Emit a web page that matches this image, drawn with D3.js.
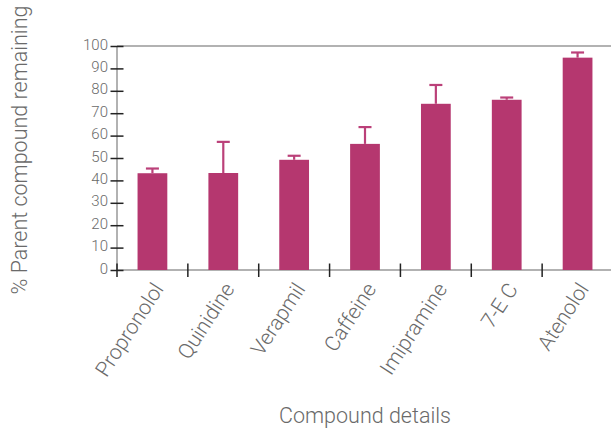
<!DOCTYPE html>
<html>
<head>
<meta charset="utf-8">
<script src="https://cdn.jsdelivr.net/npm/d3@7/dist/d3.min.js"></script>
<style>
  html, body { margin: 0; padding: 0; background: #fff; }
  svg { display: block; }
  text { font-family: Roboto, "Open Sans", Lato, sans-serif; font-weight: 300; }
</style>
</head>
<body>
<svg id="chart" width="611" height="428"></svg>
<script>
// Compounds and the share of each parent compound still present
const compounds = ["Propronolol", "Quinidine", "Verapmil", "Caffeine", "Imipramine", "7-E C", "Atenolol"];
const remaining = [43.2, 43.3, 49.2, 56.3, 74.2, 76.0, 94.8];
const errorTop = [45.3, 57.2, 51.0, 63.8, 82.6, 77.0, 97.1];
const yTicks = [0, 10, 20, 30, 40, 50, 60, 70, 80, 90, 100];

const svg = d3.select("#chart");
const plotLeft = 117, plotRight = 613, plotTop = 46, plotBottom = 270;
const barColor = "#b5376f";
const textColor = "#6a6a6a";

const x = d3.scaleBand().domain(compounds).range([plotLeft, plotRight]).paddingInner(0.58).paddingOuter(0.29);
const y = d3.scaleLinear().domain([0, 100]).range([plotBottom, plotTop]);

// frame lines: top rule and baseline
svg.append("line").attr("x1", plotLeft).attr("x2", 611).attr("y1", y(100)).attr("y2", y(100))
  .attr("stroke", "#999").attr("stroke-width", 1.5);
svg.append("line").attr("x1", plotLeft).attr("x2", 611).attr("y1", y(0)).attr("y2", y(0))
  .attr("stroke", "#999").attr("stroke-width", 1.5);
svg.append("line").attr("x1", plotLeft).attr("x2", plotLeft).attr("y1", y(100)).attr("y2", y(0) + 1)
  .attr("stroke", "#999").attr("stroke-width", 1.5);

// y axis ticks crossing the axis line
const yAxis = d3.axisLeft(y).tickValues(yTicks).tickSize(0).tickPadding(9);
const gy = svg.append("g").attr("transform", `translate(${plotLeft},0)`).call(yAxis);
gy.select(".domain").remove();
gy.selectAll("text").attr("fill", textColor).style("font-size", "15px").attr("dy", "0.2em");
gy.selectAll(".tick").append("line").attr("x1", -6.5).attr("x2", 6.5)
  .attr("stroke", "#222").attr("stroke-width", 1.5);

// x ticks at category boundaries
const boundaries = compounds.map(c => x(c) - x.step() * x.paddingOuter());
svg.append("g").selectAll("line").data(boundaries).join("line")
  .attr("x1", d => d).attr("x2", d => d)
  .attr("y1", y(0) - 6.5).attr("y2", y(0) + 7)
  .attr("stroke", "#222").attr("stroke-width", 1.5);

// bars
svg.append("g").selectAll("rect").data(compounds).join("rect")
  .attr("x", d => x(d)).attr("width", x.bandwidth())
  .attr("y", (d, i) => y(remaining[i]))
  .attr("height", (d, i) => y(0) - y(remaining[i]))
  .attr("fill", barColor);

// error bars
const eb = svg.append("g").attr("stroke", "#bb4079").attr("stroke-width", 2.2);
compounds.forEach((c, i) => {
  const cx = x(c) + x.bandwidth() / 2;
  eb.append("line").attr("x1", cx).attr("x2", cx).attr("y1", y(remaining[i])).attr("y2", y(errorTop[i]));
  eb.append("line").attr("x1", cx - 6.5).attr("x2", cx + 6.5).attr("y1", y(errorTop[i])).attr("y2", y(errorTop[i]));
});

// rotated category labels
svg.append("g").selectAll("text").data(compounds).join("text")
  .attr("transform", d => `translate(${x(d) + x.bandwidth() / 2 + 12},${y(0) + 19}) rotate(-57)`)
  .attr("text-anchor", "end")
  .attr("fill", textColor)
  .style("font-size", "21px")
  .text(d => d);

// axis titles
svg.append("text").attr("transform", "translate(27,150) rotate(-90)")
  .attr("text-anchor", "middle").attr("fill", textColor).style("font-size", "21.5px")
  .text("% Parent compound remaining");
svg.append("text").attr("x", 365).attr("y", 423)
  .attr("text-anchor", "middle").attr("fill", textColor).style("font-size", "21.5px")
  .text("Compound details");
</script>
</body>
</html>
